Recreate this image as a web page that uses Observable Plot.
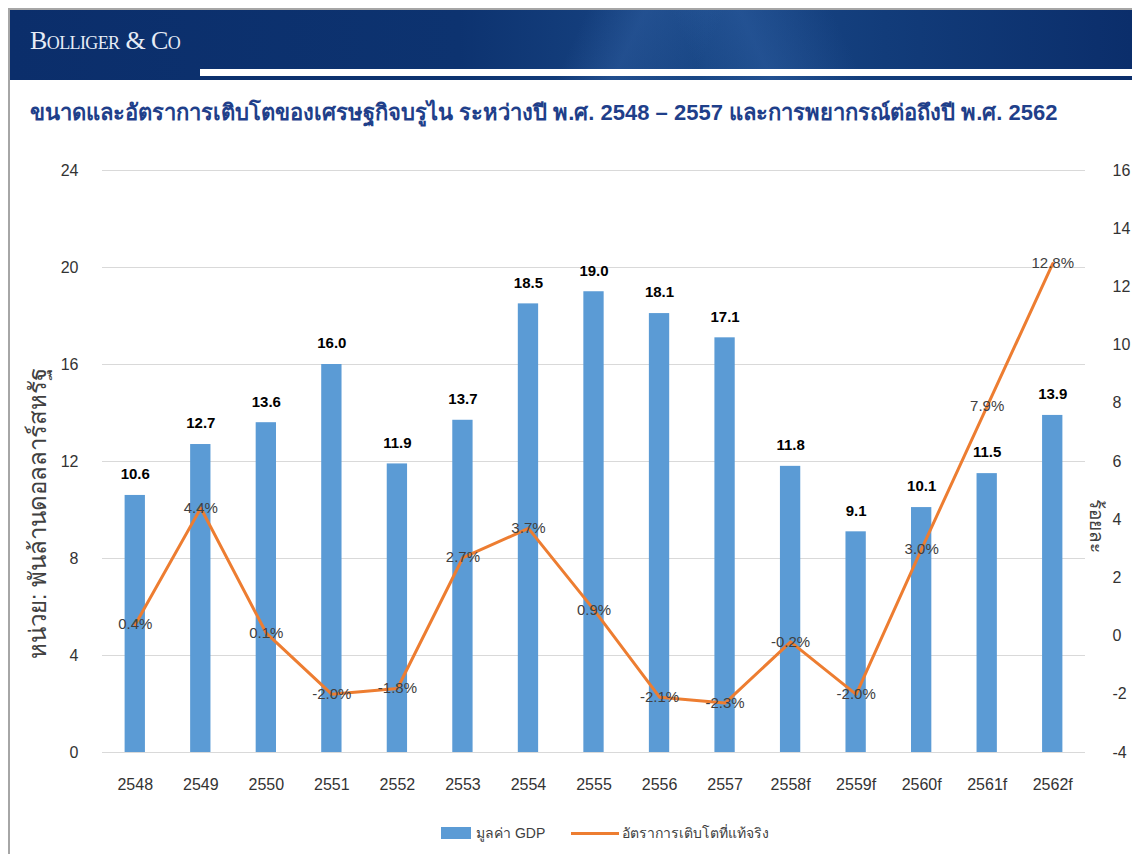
<!DOCTYPE html>
<html>
<head>
<meta charset="utf-8">
<script src="https://cdn.jsdelivr.net/npm/d3@7"></script>
<script src="https://cdn.jsdelivr.net/npm/@observablehq/plot@0.6"></script>
<style>
  html, body { margin: 0; padding: 0; background: #fff; }
  body { width: 1132px; height: 854px; position: relative; overflow: hidden; font-family: "Liberation Sans", Arial, "Noto Sans", sans-serif; }
  #frame { position: absolute; left: 8px; top: 8px; width: 1124px; height: 846px; border-left: 2px solid #a6a6a6; border-top: 2px solid #a6a6a6; box-sizing: border-box; }
  #header { position: absolute; left: 10px; top: 10px; width: 1122px; height: 70px;
    background:
      linear-gradient(115deg, rgba(255,255,255,0) 0%, rgba(255,255,255,0) 50%, rgba(70,120,190,0.25) 55%, rgba(255,255,255,0) 62%, rgba(255,255,255,0) 100%),
      linear-gradient(65deg, rgba(255,255,255,0) 0%, rgba(255,255,255,0) 60%, rgba(60,110,180,0.3) 66%, rgba(255,255,255,0) 74%, rgba(255,255,255,0) 100%),
      linear-gradient(90deg, #0b2e6b 0%, #0d3370 40%, #1a4887 62%, #123c7a 78%, #0b2e6b 100%); }
  #whitebar { position: absolute; left: 200px; top: 69px; width: 932px; height: 7px; background: #fff; }
  #brand { position: absolute; left: 20px; top: 16px; color: #e6ecf6; font-family: "Liberation Serif", "DejaVu Serif", serif; font-size: 26px; font-variant: small-caps; letter-spacing: -0.6px; }
  #title { position: absolute; left: 30px; top: 95px; color: #1f3f8a; font-weight: bold; font-size: 22px; white-space: nowrap; }
  #chart { position: absolute; left: 0; top: 140px; }
  #legend { position: absolute; top: 822px; left: 441px; display: flex; align-items: center; font-size: 14px; color: #404040; }
  .sw { display: inline-block; width: 30px; height: 12px; background: #5B9BD5; margin-right: 5px; }
  .ln { display: inline-block; width: 48px; height: 3px; background: #ED7D31; margin-left: 26px; margin-right: 3px; }
</style>
</head>
<body>
<div id="frame"></div>
<div id="header"><div id="brand">Bolliger &amp; Co</div></div>
<div id="whitebar"></div>
<div id="title">ขนาดและอัตราการเติบโตของเศรษฐกิจบรูไน ระหว่างปี พ.ศ. 2548 – 2557 และการพยากรณ์ต่อถึงปี พ.ศ. 2562</div>
<div id="chart"></div>
<div id="legend"><span class="sw"></span><span>มูลค่า GDP</span><span class="ln"></span><span>อัตราการเติบโตที่แท้จริง</span></div>
<script>
const years = ["2548","2549","2550","2551","2552","2553","2554","2555","2556","2557","2558f","2559f","2560f","2561f","2562f"];
const gdp = [10.6,12.7,13.6,16.0,11.9,13.7,18.5,19.0,18.1,17.1,11.8,9.1,10.1,11.5,13.9];
const growth = [0.4,4.4,0.1,-2.0,-1.8,2.7,3.7,0.9,-2.1,-2.3,-0.2,-2.0,3.0,7.9,12.8];
const leftTicks = [0,4,8,12,16,20,24];
const rightTicks = [-4,-2,0,2,4,6,8,10,12,14,16];
const leftLabel = "หน่วย: พันล้านดอลลาร์สหรัฐ";
const rightLabel = "ร้อยละ";

// right axis domain [-4,16] mapped onto left domain [0,24]
const rightDomain = [-4, 16];
const leftDomain = [0, 24];
const toLeft = v => leftDomain[0] + (v - rightDomain[0]) * (leftDomain[1] - leftDomain[0]) / (rightDomain[1] - rightDomain[0]);

const data = years.map((y, i) => ({year: y, gdp: gdp[i], growth: growth[i]}));

const chart = Plot.plot({
  width: 1132,
  height: 672,
  marginLeft: 102,
  marginRight: 47,
  marginTop: 30,
  marginBottom: 60,
  style: {fontFamily: "'Liberation Sans', Arial, 'Noto Sans', sans-serif", background: "transparent", color: "#333"},
  x: {type: "band", domain: years, paddingInner: 0.69, paddingOuter: 0.345, round: false, label: null},
  y: {domain: leftDomain, label: null},
  marks: [
    Plot.gridY(leftTicks, {stroke: "#d9d9d9", strokeOpacity: 1, strokeWidth: 1}),
    Plot.barY(data, {x: "year", y: "gdp", fill: "#5B9BD5"}),
    Plot.line(data, {x: "year", y: d => toLeft(d.growth), stroke: "#ED7D31", strokeWidth: 3}),
    Plot.text(data, {x: "year", y: "gdp", text: d => d.gdp.toFixed(1), dy: -21, fontWeight: "bold", fontSize: 15, fill: "#000"}),
    Plot.text(data, {x: "year", y: d => toLeft(d.growth), text: d => d.growth.toFixed(1) + "%", fontSize: 15, fill: "#404040"}),
    Plot.axisY({ticks: leftTicks, tickSize: 0, tickPadding: 24, fontSize: 16, label: null}),
    Plot.text(rightTicks, {y: d => toLeft(d), text: d => String(d), frameAnchor: "right", dx: 27, textAnchor: "start", fontSize: 16, fill: "#333"}),
    Plot.axisX({tickSize: 0, tickPadding: 26, fontSize: 16, label: null}),
    Plot.text([leftLabel], {text: d => d, frameAnchor: "left", textAnchor: "middle", dx: -64, dy: 52, rotate: -90, fontSize: 24, fill: "#404040"}),
    Plot.text([rightLabel], {text: d => d, frameAnchor: "right", textAnchor: "middle", dx: 11, dy: 64, rotate: 90, fontSize: 19, fill: "#404040"})
  ]
});
document.getElementById("chart").appendChild(chart);
</script>
</body>
</html>
